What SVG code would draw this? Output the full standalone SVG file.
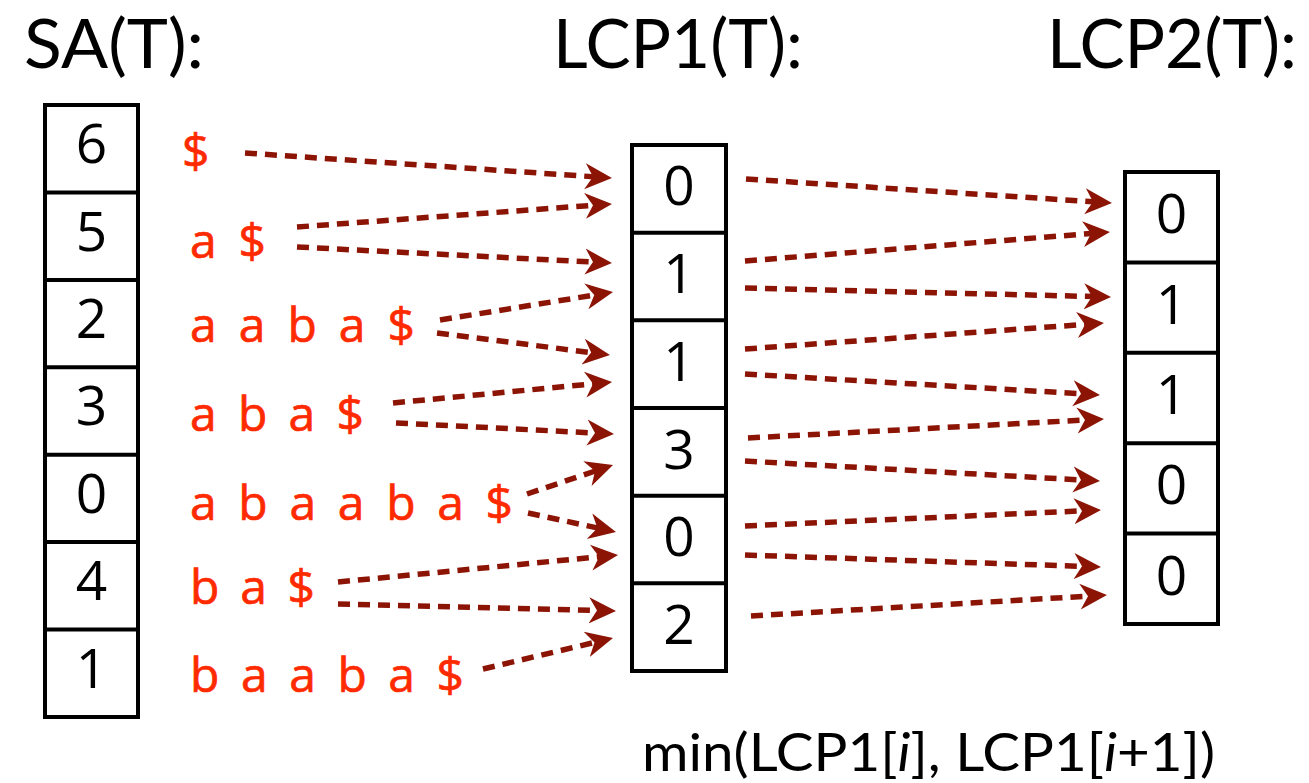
<svg xmlns="http://www.w3.org/2000/svg" width="1309" height="783" viewBox="0 0 1309 783">
<style>
.title{font-family:Lato,"Open Sans","DejaVu Sans",sans-serif;font-size:68px;fill:#000}
.num{font-family:"Open Sans","DejaVu Sans",sans-serif;font-size:55px;fill:#000;text-anchor:middle}
.suf{font-family:"Open Sans","DejaVu Sans",sans-serif;font-size:48px;fill:#ff2a00;stroke:#ff2a00;stroke-width:0.7}
.box{fill:#fff;stroke:#000;stroke-width:4}
.div{stroke:#000;stroke-width:4}
.arr{fill:none;stroke:#8c1405;stroke-width:5.5;stroke-dasharray:12 8}
.cap{font-family:Lato,"Open Sans","DejaVu Sans",sans-serif;font-size:52px;fill:#000}
</style>
<defs>
<marker id="ah" markerUnits="userSpaceOnUse" markerWidth="30" markerHeight="30" viewBox="0 -15 30 30" refX="12" refY="0" orient="auto">
<path d="M0,-13 L27,0 L0,13 L8,0 Z" fill="#8c1405"/>
</marker>
</defs>
<rect width="1309" height="783" fill="#fff"/>

<g id="titles">
<text class="title" x="24" y="68" textLength="180" lengthAdjust="spacingAndGlyphs">SA(T):</text>
<text class="title" x="553" y="68" textLength="250" lengthAdjust="spacingAndGlyphs">LCP1(T):</text>
<text class="title" x="1047" y="68" textLength="250" lengthAdjust="spacingAndGlyphs">LCP2(T):</text>
</g>

<g id="sa">
<rect class="box" x="45" y="105" width="93" height="612"/>
<line class="div" x1="45" y1="192.4" x2="138" y2="192.4"/>
<line class="div" x1="45" y1="279.9" x2="138" y2="279.9"/>
<line class="div" x1="45" y1="367.3" x2="138" y2="367.3"/>
<line class="div" x1="45" y1="454.7" x2="138" y2="454.7"/>
<line class="div" x1="45" y1="542.1" x2="138" y2="542.1"/>
<line class="div" x1="45" y1="629.6" x2="138" y2="629.6"/>
<text class="num" x="91.5" y="163">6</text>
<text class="num" x="91.5" y="251">5</text>
<text class="num" x="91.5" y="338">2</text>
<text class="num" x="91.5" y="425">3</text>
<text class="num" x="91.5" y="513">0</text>
<text class="num" x="91.5" y="600">4</text>
<text class="num" x="91.5" y="688">1</text>
</g>

<g id="suffixes">
<text class="suf" x="182" y="168">$</text>
<text class="suf" x="190" y="258" textLength="76" lengthAdjust="spacing">a $</text>
<text class="suf" x="190" y="342" textLength="225" lengthAdjust="spacing">a a b a $</text>
<text class="suf" x="190" y="431" textLength="174" lengthAdjust="spacing">a b a $</text>
<text class="suf" x="190" y="520" textLength="323" lengthAdjust="spacing">a b a a b a $</text>
<text class="suf" x="190" y="604" textLength="125" lengthAdjust="spacing">b a $</text>
<text class="suf" x="190" y="692" textLength="274" lengthAdjust="spacing">b a a b a $</text>
</g>

<g id="lcp1">
<rect class="box" x="632" y="145" width="94" height="526"/>
<line class="div" x1="632" y1="232.7" x2="726" y2="232.7"/>
<line class="div" x1="632" y1="320.3" x2="726" y2="320.3"/>
<line class="div" x1="632" y1="408" x2="726" y2="408"/>
<line class="div" x1="632" y1="495.7" x2="726" y2="495.7"/>
<line class="div" x1="632" y1="583.3" x2="726" y2="583.3"/>
<text class="num" x="679" y="205">0</text>
<text class="num" x="679" y="293">1</text>
<text class="num" x="679" y="381">1</text>
<text class="num" x="679" y="469">3</text>
<text class="num" x="679" y="556">0</text>
<text class="num" x="679" y="644">2</text>
</g>

<g id="lcp2">
<rect class="box" x="1125" y="172" width="93" height="452"/>
<line class="div" x1="1125" y1="262.4" x2="1218" y2="262.4"/>
<line class="div" x1="1125" y1="352.8" x2="1218" y2="352.8"/>
<line class="div" x1="1125" y1="443.2" x2="1218" y2="443.2"/>
<line class="div" x1="1125" y1="533.6" x2="1218" y2="533.6"/>
<text class="num" x="1171.5" y="233">0</text>
<text class="num" x="1171.5" y="324">1</text>
<text class="num" x="1171.5" y="414">1</text>
<text class="num" x="1171.5" y="504">0</text>
<text class="num" x="1171.5" y="595">0</text>
</g>

<g id="connectors">
<line class="arr" marker-end="url(#ah)" x1="245" y1="153" x2="597" y2="177"/>
<line class="arr" marker-end="url(#ah)" x1="297" y1="227" x2="597" y2="205"/>
<line class="arr" marker-end="url(#ah)" x1="297" y1="247" x2="597" y2="262.2"/>
<line class="arr" marker-end="url(#ah)" x1="440" y1="320" x2="598.2" y2="294.4"/>
<line class="arr" marker-end="url(#ah)" x1="437" y1="333" x2="595.1" y2="353.1"/>
<line class="arr" marker-end="url(#ah)" x1="393" y1="403" x2="597.1" y2="383.4"/>
<line class="arr" marker-end="url(#ah)" x1="396" y1="423" x2="599" y2="433.2"/>
<line class="arr" marker-end="url(#ah)" x1="527" y1="494" x2="598.8" y2="469.8"/>
<line class="arr" marker-end="url(#ah)" x1="528" y1="513" x2="601.3" y2="528.8"/>
<line class="arr" marker-end="url(#ah)" x1="338" y1="582" x2="603.1" y2="556.4"/>
<line class="arr" marker-end="url(#ah)" x1="338" y1="604" x2="601" y2="610.6"/>
<line class="arr" marker-end="url(#ah)" x1="483" y1="669" x2="598.4" y2="641.5"/>

<line class="arr" marker-end="url(#ah)" x1="746" y1="179" x2="1097" y2="202"/>
<line class="arr" marker-end="url(#ah)" x1="745" y1="261" x2="1095" y2="233.2"/>
<line class="arr" marker-end="url(#ah)" x1="745" y1="288" x2="1096" y2="296.6"/>
<line class="arr" marker-end="url(#ah)" x1="745" y1="349" x2="1089" y2="324.1"/>
<line class="arr" marker-end="url(#ah)" x1="745" y1="374" x2="1085" y2="394"/>
<line class="arr" marker-end="url(#ah)" x1="748" y1="438" x2="1089" y2="419.8"/>
<line class="arr" marker-end="url(#ah)" x1="745" y1="461" x2="1085" y2="480.2"/>
<line class="arr" marker-end="url(#ah)" x1="745" y1="526" x2="1086" y2="510.7"/>
<line class="arr" marker-end="url(#ah)" x1="745" y1="555" x2="1086" y2="566.5"/>
<line class="arr" marker-end="url(#ah)" x1="751" y1="616" x2="1092" y2="595.9"/>
</g>

<text class="cap" x="642" y="771" textLength="573" lengthAdjust="spacingAndGlyphs">min(LCP1[<tspan font-style="italic">i</tspan>], LCP1[<tspan font-style="italic">i</tspan>+1])</text>
</svg>
